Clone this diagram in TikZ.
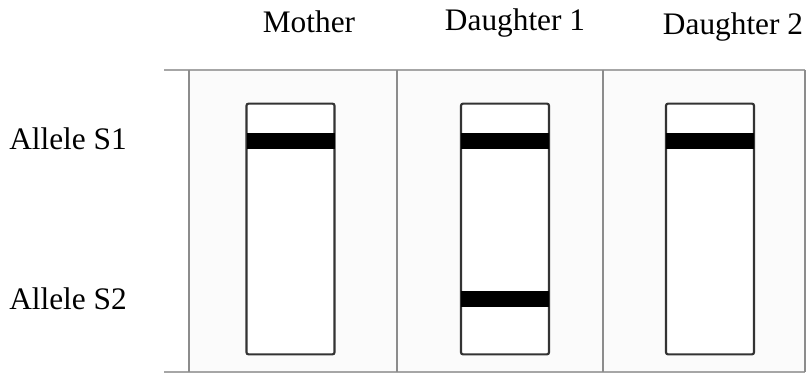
\documentclass[tikz,border=0pt]{standalone}
\usepackage{fontspec}
\setmainfont{Liberation Serif}
\usetikzlibrary{positioning}

\begin{document}
\begin{tikzpicture}[
  x=0.75pt, y=-0.75pt,
  font=\fontsize{23.5}{28}\selectfont,
  tube/.style={rectangle, rounded corners=1.5pt, draw=black!80, line width=1.6pt,
               fill=white, minimum width=66pt, minimum height=188pt, inner sep=0pt},
  band/.style={rectangle, fill=black, minimum width=66pt, minimum height=12pt,
               inner sep=0pt, outer sep=0pt},
  divider/.style={draw=black!45, line width=2pt},
  rim/.style={draw=black!35, line width=1.6pt}
]
\useasboundingbox (0,0) rectangle (809,374);

% --- gel background ---
\fill[black!1.5] (189,70) rectangle (805,372);
\draw[rim] (164,70) -- (805,70);
\draw[rim] (164,372) -- (805,372);
\foreach \x in {189,397,603,805} \draw[divider] (\x,70) -- (\x,372);

% --- lanes ---
\foreach \i/\x in {1/290.5, 2/505, 3/710} {
  \node[tube] (tube\i) at (\x,229) {};
  \node[band, below=22.5pt of tube\i.north] (sone\i) {};
}
\node[band, below=141pt of tube2.north] (stwo2) {};

% --- column labels ---
\node[anchor=base] (mother) at (309,33) {Mother};
\node[anchor=base] (daughter1) at (515,31) {Daughter 1};
\node[anchor=base] (daughter2) at (733,35) {Daughter 2};

% --- row labels ---
\node[anchor=base west, inner sep=0pt] (alleleone) at (9,149) {Allele S1};
\node[anchor=base west, inner sep=0pt] (alleletwo) at (9,309) {Allele S2};
\end{tikzpicture}
\end{document}
